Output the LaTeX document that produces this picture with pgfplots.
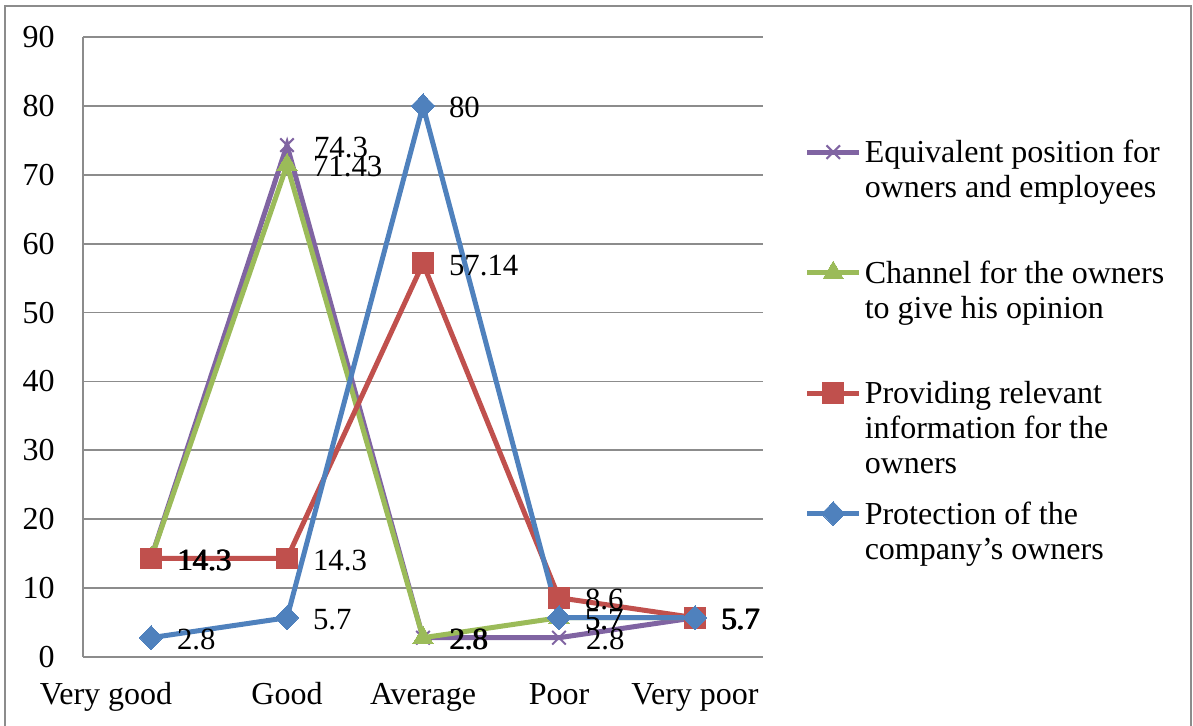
\documentclass[border=0pt]{standalone}
\usepackage{fontspec}
\setmainfont{Liberation Serif}
\usepackage{pgfplots}
\pgfplotsset{compat=1.18}
\definecolor{cpurple}{HTML}{8064A2}
\definecolor{cgreen}{HTML}{9BBB59}
\definecolor{cred}{HTML}{C0504D}
\definecolor{cblue}{HTML}{4F81BD}
\definecolor{gridgray}{HTML}{8C8C8C}
\newcommand{\tfont}{\fontsize{16}{17.5}\selectfont}
\newcommand{\lfont}{\fontsize{15.4}{17.5}\selectfont}
\newcommand{\lent}[3]{\begin{tabular}[t]{@{}l@{}}#1\\#2\\#3\end{tabular}}
\begin{document}
\begin{tikzpicture}
\useasboundingbox (0,0) rectangle (596.5pt,363pt);
\draw[gridgray, line width=1pt] (2.5pt,-5pt) -- (2.5pt,360pt) -- (595.5pt,360pt) -- (595.5pt,-5pt);
\begin{axis}[
  at={(41.5pt,34.5pt)}, anchor=south west,
  scale only axis, width=340pt, height=310pt,
  xmin=-0.5, xmax=4.5, ymin=0, ymax=90,
  xtick={0,1,2,3,4},
  xticklabels={{\hspace*{-45pt}Very good}, Good, Average, Poor, Very poor},
  ytick={0,10,...,90},
  axis lines=left, axis line style={-, gridgray, line width=1pt},
  ymajorgrids, grid style={gridgray, line width=0.9pt},
  major tick length=0pt,
  tick label style={font=\tfont, text=black},
  /pgf/number format/assume math mode=true,
  yticklabel style={anchor=east, inner sep=0pt, xshift=-14pt},
  xticklabel style={anchor=base, inner sep=0pt, yshift=-24pt},
  clip=false,
  nodes near coords, point meta=explicit symbolic,
  every node near coord/.append style={anchor=west, inner sep=0pt, xshift=13pt, yshift=-1pt, font=\lfont, text=black},
  legend style={at={(1.052,0.85)}, anchor=north west, draw=none, fill=none, font=\tfont, row sep=42.5pt, column sep=0pt, nodes={inner xsep=1.5pt}},
  legend cell align=left,
  legend image code/.code={\draw[#1, mark repeat=2, mark phase=2] plot coordinates {(0pt,0pt) (13pt,0pt) (26pt,0pt)};},
]
\addplot[cpurple, line width=2.5pt, mark=x, mark size=4.8pt, mark options={line width=1pt}]
  coordinates {(0,14.3) [14.3] (1,74.3) [74.3] (2,2.8) [2.8] (3,2.8) [2.8] (4,5.7) [5.7]};
\addlegendentry{\lent{Equivalent position for}{owners and employees}{}}
\addplot[cgreen, line width=2.5pt, mark=triangle*, mark size=5.8pt, mark options={line width=0pt}]
  coordinates {(0,14.3) [14.3] (1,71.43) [71.43] (2,2.8) [2.8] (3,5.7) [5.7] (4,5.7) [5.7]};
\addlegendentry{\lent{Channel for the owners}{to give his opinion}{}}
\addplot[cred, line width=2.5pt, mark=square*, mark size=5.2pt, mark options={line width=0pt}]
  coordinates {(0,14.3) [14.3] (1,14.3) [14.3] (2,57.14) [57.14] (3,8.6) [8.6] (4,5.7) [5.7]};
\addlegendentry{\lent{Providing relevant}{information for the}{owners}}
\addplot[cblue, line width=2.5pt, mark=diamond*, mark size=6pt, mark options={line width=0pt, xscale=1.3}]
  coordinates {(0,2.8) [2.8] (1,5.7) [5.7] (2,80) [80] (3,5.7) [5.7] (4,5.7) [5.7]};
\addlegendentry{\lent{Protection of the}{company’s owners}{}}
\end{axis}
\end{tikzpicture}
\end{document}
